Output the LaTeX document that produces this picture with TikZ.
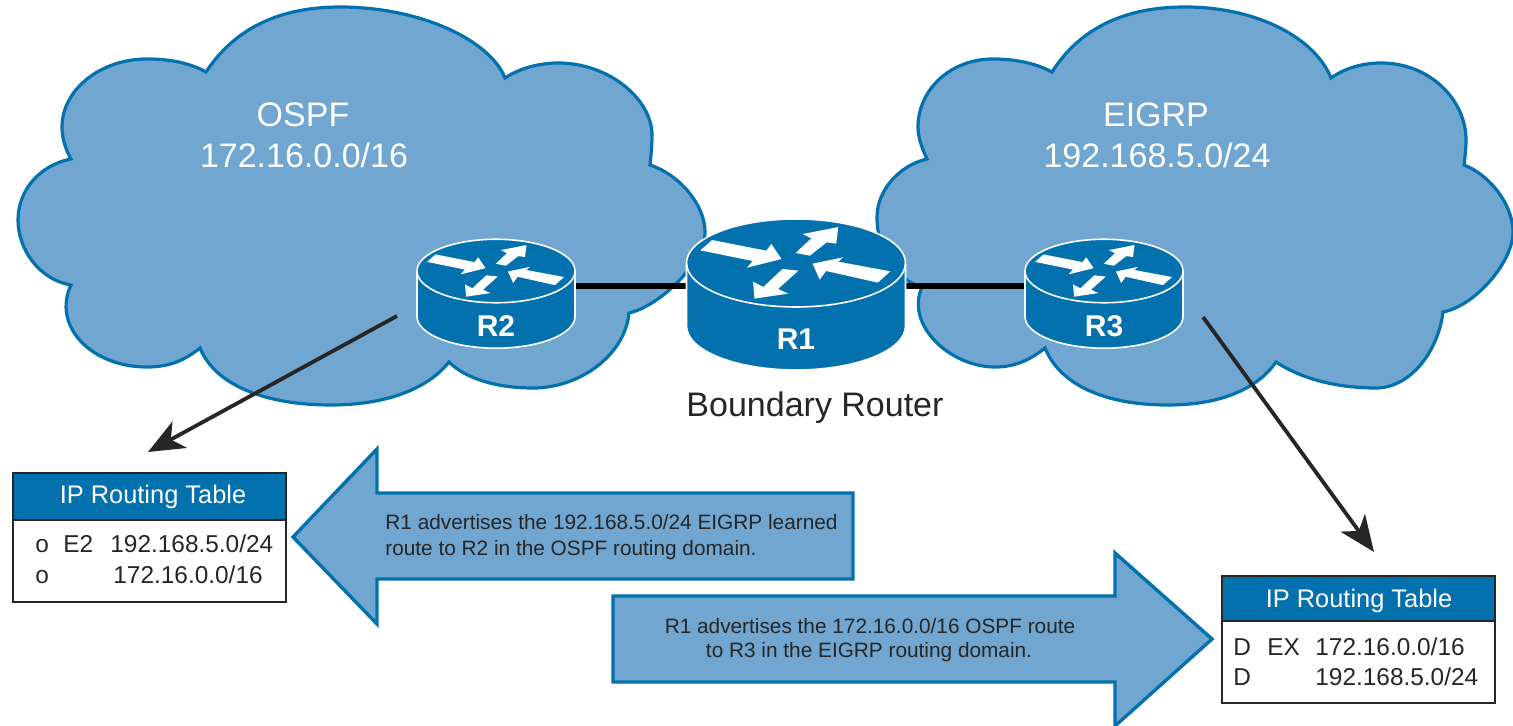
\documentclass[tikz,border=0pt]{standalone}
\usepackage{fontspec}
\setmainfont{Liberation Sans}
\usetikzlibrary{arrows.meta}
\definecolor{cloudfill}{HTML}{70A6D0}
\definecolor{ciscoblue}{HTML}{0271AE}
\definecolor{inkdark}{HTML}{262626}
\newcommand{\fsz}[1]{\fontsize{#1}{#1}\selectfont}
\newcommand{\routershape}[5]{%
  \begin{scope}[shift={(#1,#2)},scale=#3]
    \path[routerbody] (-109.5,0) -- (-109.5,63)
      .. controls (-109.5,87.3) and (-60.5,107) .. (0,107)
      .. controls (60.5,107) and (109.5,87.3) .. (109.5,63)
      -- (109.5,0)
      .. controls (109.5,-24.3) and (60.5,-44) .. (0,-44)
      .. controls (-60.5,-44) and (-109.5,-24.3) .. cycle;
    \path[routerrim] (-109.5,0)
      .. controls (-109.5,24.3) and (-60.5,44) .. (0,44)
      .. controls (60.5,44) and (109.5,24.3) .. (109.5,0);
    \begin{scope}[xscale=.338,yscale=.333]
      \fill[white] (-283,-38) -- (-248,-69) -- (-88,-37) -- (-73,-57) -- (-43,-12) -- (-145,14) -- (-128,-6) -- cycle;
      \fill[white] (-1,-30) -- (41,-22) -- (91,-62) -- (119,-58) -- (125,-108) -- (20,-87) -- (45,-74) -- cycle;
      \fill[white] (49,2) -- (139,-17) -- (125,-4) -- (279,25) -- (242,59) -- (89,24) -- (70,50) -- cycle;
      \fill[white] (-40,18) -- (7,23) -- (-53,78) -- (-23,92) -- (-123,107) -- (-127,56) -- (-97,72) -- cycle;
    \end{scope}
  \end{scope}
  \node[routertag] (#4tag) at (#1,#5) {#4};
}
\tikzset{
  x=0.5pt,y=-0.5pt,
  cloudshape/.style={fill=cloudfill,draw=ciscoblue,line width=1.6pt,line join=miter},
  blockarrow/.style={fill=cloudfill,draw=ciscoblue,line width=1.7pt,line join=miter},
  routerbody/.style={fill=ciscoblue,draw=white,line width=.8pt},
  routerrim/.style={draw=white,line width=.8pt},
  routerbox/.style={draw=none,inner sep=0pt,outer sep=0pt,minimum width=#1*.5pt},
  routertag/.style={anchor=base,text=white,font=\fsz{15}\bfseries,inner sep=0pt},
  cloudtitle/.style={anchor=base,text=white,font=\fsz{17},inner sep=0pt},
  darklabel/.style={anchor=base,text=inkdark,font=\fsz{17},inner sep=0pt},
  notetext/.style={anchor=base west,text=inkdark,font=\fsz{10.4},inner sep=0pt},
  notecenter/.style={anchor=base,text=inkdark,font=\fsz{10.4},inner sep=0pt},
  tablehead/.style={anchor=north west,fill=ciscoblue,draw=inkdark,line width=.8pt,inner sep=0pt,minimum width=136.7pt},
  tablebody/.style={anchor=north west,fill=white,draw=inkdark,line width=.8pt,inner sep=0pt,minimum width=136.7pt},
  tabletitle/.style={anchor=base,text=white,font=\fsz{12.7},inner sep=0pt},
  tablerow/.style={anchor=base west,text=inkdark,font=\fsz{12.2},inner sep=0pt},
  linkline/.style={draw=black,line width=2.9pt},
  pointer/.style={draw=inkdark,line width=1.9pt,-{Stealth[length=18pt,width=15pt,inset=5pt]}}
}
\begin{document}
\begin{tikzpicture}
\useasboundingbox (0,0) rectangle (1513,726);
% clouds
\path[cloudshape] (206,72)
  .. controls (235,28) and (280,7) .. (340,7)
  .. controls (420,7) and (490,40) .. (505,78)
  .. controls (520,68) and (540,63) .. (558,63)
  .. controls (610,63) and (652,100) .. (652,135)
  .. controls (652,145) and (651,155) .. (650,165)
  .. controls (680,175) and (705,205) .. (705,232)
  .. controls (705,262) and (660,306) .. (629,313)
  .. controls (625,355) and (580,388) .. (533,388)
  .. controls (495,388) and (465,378) .. (449,362)
  .. controls (425,392) and (380,405) .. (331,405)
  .. controls (265,405) and (215,385) .. (200,348)
  .. controls (185,360) and (170,367) .. (147,367)
  .. controls (90,367) and (52,325) .. (71,285)
  .. controls (40,280) and (18,250) .. (18,220)
  .. controls (18,190) and (40,165) .. (71,159)
  .. controls (65,148) and (62,138) .. (62,127)
  .. controls (62,90) and (100,59) .. (147,59)
  .. controls (170,59) and (190,63) .. (206,72) -- cycle;
\path[cloudshape] (1052,72)
  .. controls (1080,28) and (1125,7) .. (1185,7)
  .. controls (1260,7) and (1316,40) .. (1331,78)
  .. controls (1345,68) and (1363,63) .. (1381,63)
  .. controls (1430,63) and (1466,100) .. (1466,140)
  .. controls (1466,148) and (1465,157) .. (1464,165)
  .. controls (1490,175) and (1513,205) .. (1513,232)
  .. controls (1513,262) and (1475,306) .. (1443,312)
  .. controls (1438,352) and (1410,388) .. (1376,388)
  .. controls (1335,388) and (1300,378) .. (1276,362)
  .. controls (1255,392) and (1215,405) .. (1168,405)
  .. controls (1105,405) and (1060,385) .. (1045,348)
  .. controls (1030,360) and (1015,367) .. (995,367)
  .. controls (950,367) and (905,325) .. (922,287)
  .. controls (895,280) and (877,250) .. (877,217)
  .. controls (877,190) and (900,165) .. (927,159)
  .. controls (922,148) and (918,138) .. (918,127)
  .. controls (918,90) and (950,59) .. (993,59)
  .. controls (1015,59) and (1035,63) .. (1052,72) -- cycle;
\node[cloudtitle] (ospf) at (303,127) {OSPF};
\node[cloudtitle] (ospfnet) at (304,168) {172.16.0.0/16};
\node[cloudtitle] (eigrp) at (1156,127) {EIGRP};
\node[cloudtitle] (eigrpnet) at (1157,168) {192.168.5.0/24};
% router anchors
\node[routerbox=158,minimum height=56pt] (r2) at (496,294) {};
\node[routerbox=219,minimum height=75.5pt] (r1) at (796,294.5) {};
\node[routerbox=158,minimum height=56pt] (r3) at (1104,294) {};
\coordinate (lk) at (0,286);
\draw[linkline] (r2.east |- lk) -- (r1.west |- lk);
\draw[linkline] (r1.east |- lk) -- (r3.west |- lk);
\routershape{496}{271}{.7215}{R2}{337}
\routershape{796}{263}{1}{R1}{350}
\routershape{1104}{271}{.7215}{R3}{337}
\node[darklabel] (boundary) at (815,416) {Boundary Router};
% tables
\node[tablebody,minimum height=64.5pt] (ltbody) at (12,472) {};
\node[tablehead,minimum height=23.5pt] (lthead) at (12,472) {};
\node[tabletitle] (lttitle) at (153,503) {IP Routing Table};
\node[tablerow] (lr1a) at (35,552) {o};
\node[tablerow] (lr1b) at (63,552) {E2};
\node[tablerow] (lr1c) at (110,552) {192.168.5.0/24};
\node[tablerow] (lr2a) at (35,583) {o};
\node[tablerow] (lr2c) at (113,583) {172.16.0.0/16};
\node[tablebody,minimum height=63.5pt] (rtbody) at (1221,575) {};
\node[tablehead,minimum height=22.5pt] (rthead) at (1221,575) {};
\node[tabletitle] (rttitle) at (1359,607) {IP Routing Table};
\node[tablerow] (rr1a) at (1233,655) {D};
\node[tablerow] (rr1b) at (1267,655) {EX};
\node[tablerow] (rr1c) at (1315,655) {172.16.0.0/16};
\node[tablerow] (rr2a) at (1233,685) {D};
\node[tablerow] (rr2c) at (1315,685) {192.168.5.0/24};
% pointers
\coordinate (lpfrom) at (397,316);
\coordinate (lpto) at (148,452);
\coordinate (rpfrom) at (1203,317);
\coordinate (rpto) at (1374,552);
\draw[pointer] (lpfrom) -- (lpto);
\draw[pointer] (rpfrom) -- (rpto);
% block arrows
\path[blockarrow] (293,537) -- (377,449) -- (377,493) -- (853,493) -- (853,579) -- (377,579) -- (377,624) -- cycle;
\path[blockarrow] (1212,639) -- (1115,553) -- (1115,596) -- (613,596) -- (613,682) -- (1115,682) -- (1115,726) -- cycle;
\node[notetext] (n1a) at (385,529) {R1 advertises the 192.168.5.0/24 EIGRP learned};
\node[notetext] (n1b) at (385,555) {route to R2 in the OSPF routing domain.};
\node[notecenter] (n2a) at (870,633) {R1 advertises the 172.16.0.0/16 OSPF route};
\node[notecenter] (n2b) at (869,657) {to R3 in the EIGRP routing domain.};
\end{tikzpicture}
\end{document}
